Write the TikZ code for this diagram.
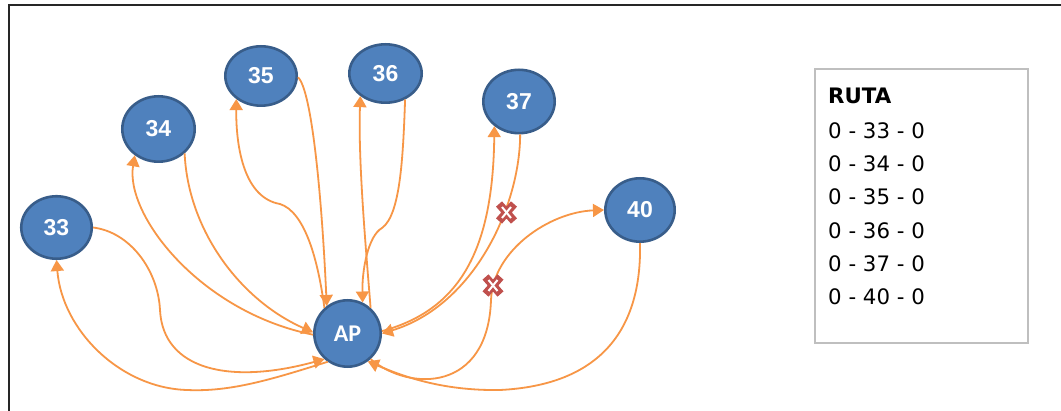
\documentclass[tikz,border=0pt]{standalone}
\usepackage{fontspec}
\setmainfont{DejaVu Sans}
\newfontfamily\numfont{Liberation Sans}
\newfontfamily\apfont{Carlito}
\usetikzlibrary{shapes.geometric,arrows.meta}
\definecolor{nodefill}{HTML}{4F81BD}
\definecolor{nodeline}{HTML}{385D8A}
\definecolor{route}{HTML}{F79646}
\definecolor{cancelred}{HTML}{C0504D}
\definecolor{boxline}{HTML}{BFBFBF}
\tikzset{
  cancelmark/.pic={
    \draw[cancelred, line width=8pt] (-7.5,-8.5) -- (7.5,8.5) (-7.5,8.5) -- (7.5,-8.5);
    \draw[white, line width=2pt] (-4.5,-5.5) -- (4.5,5.5) (-4.5,5.5) -- (4.5,-5.5);
  }
}
\begin{document}
\begin{tikzpicture}[x=1pt, y=-1pt,
  stop/.style={ellipse, fill=nodefill, draw=nodeline, line width=2.6pt,
    inner sep=0pt, text=white, font=\numfont\bfseries\fontsize{23}{23}\selectfont},
  link/.style={draw=route, line width=1.8pt},
  arr/.style={link, -{Triangle[length=11pt,width=13pt]}},
  legendline/.style={anchor=base west, inner sep=0pt, font=\fontsize{21.3}{24}\selectfont}
]
\useasboundingbox (0,0) rectangle (1061,411);
\clip (0,0) rectangle (1061,411);
\fill[white] (0,0) rectangle (1061,411);

% outer frame
\draw[black!85, line width=2pt] (8.5,430) -- (8.5,5) -- (1080,5);

% stops
\node[stop, minimum width=70.5pt, minimum height=62.5pt] (n33) at (56.5,227.5) {33};
\node[stop, minimum width=72.4pt, minimum height=65.4pt] (n34) at (158.5,129) {34};
\node[stop, minimum width=71.4pt, minimum height=59.4pt] (n35) at (261,76) {35};
\node[stop, minimum width=72.4pt, minimum height=58.4pt] (n36) at (385.5,73.5) {36};
\node[stop, minimum width=71.4pt, minimum height=63.4pt] (n37) at (519,101.5) {37};
\node[stop, minimum width=69.4pt, minimum height=63.4pt] (n40) at (640,210) {40};
\node[stop, circle, minimum size=66.4pt, font=\apfont\bfseries\fontsize{24}{24}\selectfont] (AP) at (347.5,333.5) {AP};

% routes 0 - 33 - 0
\draw[arr] (AP.235) .. controls (270,380) and (230,392) .. (187,390)
  .. controls (120,388) and (62,330) .. (n33.south);
\draw[arr] (n33.east) .. controls (130,232) and (158,270) .. (160,310)
  .. controls (163,370) and (230,385) .. (AP.228);

% routes 0 - 34 - 0
\draw[arr] (AP.182) .. controls (200,312) and (125,215) .. (n34.228);
\draw[arr] (n34.317) .. controls (188,230) and (240,300) .. (AP.178);

% routes 0 - 35 - 0
\draw[arr] (AP.132) .. controls (318,260) and (305,212) .. (280,204)
  .. controls (245,198) and (236,150) .. (n35.223);
\draw[arr] (n35.358) .. controls (312,90) and (322,200) .. (AP.127);

% routes 0 - 36 - 0
\draw[arr] (AP.48) .. controls (366,250) and (358,160) .. (n36.222);
\draw[arr] (n36.307) .. controls (403,160) and (400,215) .. (382,228)
  .. controls (368,236) and (362,270) .. (AP.64);

% routes 0 - 37 - 0
\draw[arr] (AP.4) .. controls (460,310) and (493,250) .. (n37.225);
\draw[arr] (n37.272) .. controls (520,205) and (475,305) .. (AP.0);

% routes 0 - 40 - 0
\draw[arr] (AP.312) .. controls (410,392) and (488,392) .. (491,300)
  .. controls (493,250) and (550,212) .. (n40.west);
\draw[arr] (n40.south) .. controls (642,330) and (600,385) .. (500,390)
  .. controls (440,391) and (400,375) .. (AP.306);

% cancelled legs
\pic at (506.5,212.5) {cancelmark};
\pic at (493,285.5) {cancelmark};

% route list
\draw[boxline, line width=1.2pt] (815,69) rectangle (1028,343);
\node[legendline, font=\bfseries\fontsize{21.3}{24}\selectfont] (lt) at (828,103.3) {RUTA};
\node[legendline] (l1) at (828,138.3) {0 - 33 - 0};
\node[legendline] (l2) at (828,171.7) {0 - 34 - 0};
\node[legendline] (l3) at (828,205) {0 - 35 - 0};
\node[legendline] (l4) at (828,238.3) {0 - 36 - 0};
\node[legendline] (l5) at (828,271.7) {0 - 37 - 0};
\node[legendline] (l6) at (828,305) {0 - 40 - 0};
\end{tikzpicture}
\end{document}
